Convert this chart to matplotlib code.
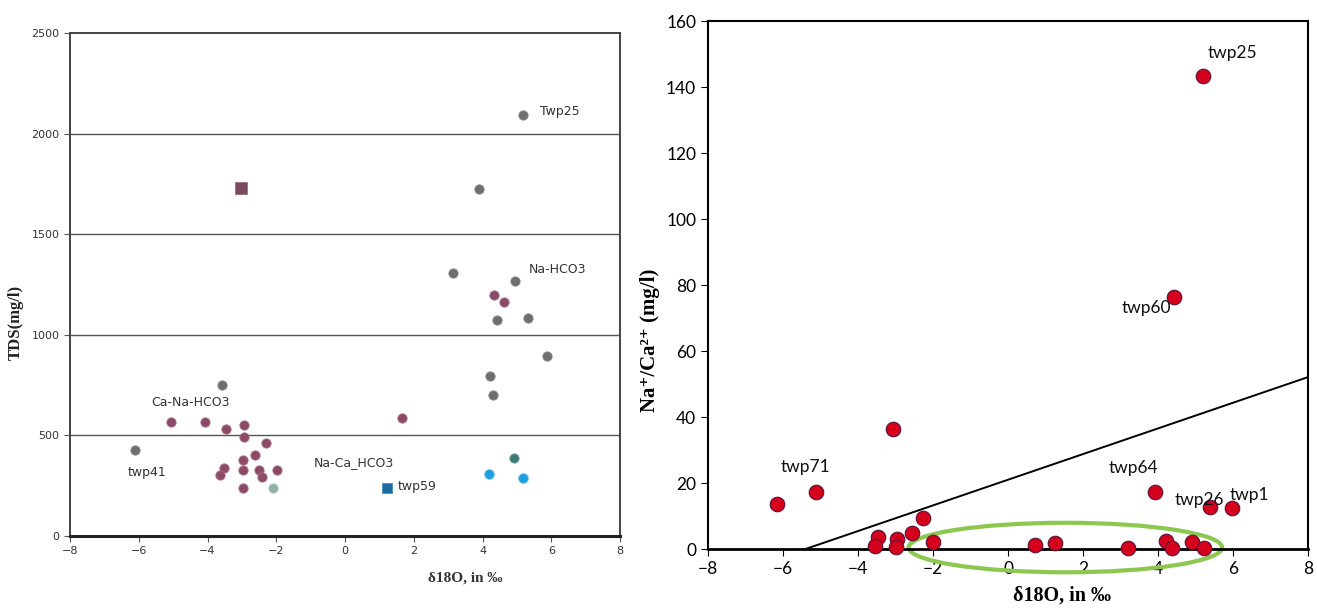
import numpy as np
import matplotlib
matplotlib.use("Agg")
from matplotlib import pyplot as plt
from matplotlib.patches import Ellipse

# ---- TDS vs d18O (left panel) ----
grey_x = [5.18, 3.90, 3.14, 4.94, 5.32, 5.87, 4.21, 4.30, -3.58, -6.10, 4.42]
grey_y = [2092, 1725, 1307, 1267, 1083, 895, 795, 700, 750, 427, 1073]

mauve_x = [4.33, 4.62, 1.65, -5.06, -4.06, -3.45, -2.95, -2.95, -2.29, -2.61,
           -2.97, -2.97, -3.53, -3.63, -2.51, -2.41, -1.97, -2.97]
mauve_y = [1198, 1163, 586, 568, 568, 530, 552, 494, 461, 403,
           378, 328, 336, 303, 328, 295, 328, 237]

big_x, big_y = [-3.04], [1730]
pale_x, pale_y = [-2.10], [237]
teal_x, teal_y = [4.92], [388]
cyan_x, cyan_y = [4.19, 5.18], [308, 288]
blue_x, blue_y = [1.21], [239]

tds_labels = ["Twp25", "Na-HCO3", "Ca-Na-HCO3", "twp41", "Na-Ca_HCO3", "twp59"]
tds_label_x = [5.67, 5.35, -5.64, -6.31, -0.92, 1.53]
tds_label_y = [2112, 1327, 664, 318, 363, 244]

# ---- Na/Ca ratio vs d18O (right panel) ----
ratio_x = [5.20, 4.42, -3.08, -5.12, -6.15, 3.91, 5.39, 5.98, -2.27, -2.57,
           -3.48, -3.55, -2.97, -3.00, -2.00, 0.71, 1.25, 3.20, 4.20, 4.37,
           4.90, 5.23]
ratio_y = [143.3, 76.4, 36.4, 17.3, 13.6, 17.3, 12.7, 12.4, 9.4, 4.9,
           3.6, 0.9, 3.0, 0.6, 2.1, 1.2, 1.9, 0.3, 2.5, 0.4,
           2.1, 0.3]

ratio_labels = ["twp25", "twp60", "twp71", "twp64", "twp26", "twp1"]
ratio_label_x = [5.31, 3.02, -6.06, 2.67, 4.45, 5.90]
ratio_label_y = [150.3, 73.0, 24.8, 24.5, 14.8, 16.4]

# trend line end points and highlighted group
line_x = [-5.4, 8.0]
line_y = [0.0, 52.1]
group_center = (1.53, 0.45)
group_size = (8.36, 15.0)

narrow = ['Liberation Sans Narrow', 'DejaVu Sans']
serif = ['Liberation Serif', 'DejaVu Serif']
calibri = ['Lato', 'DejaVu Sans']

fig = plt.figure(figsize=(13.17, 6.09), dpi=100)

# left panel
ax1 = fig.add_axes([0.0532, 0.1199, 0.4176, 0.8259])
ax1.set_xlim(-8, 8)
ax1.set_ylim(0, 2500)
ax1.set_xticks(np.arange(-8, 9, 2))
ax1.set_yticks(np.arange(0, 2501, 500))
for v in [500, 1000, 1500, 2000]:
    ax1.axhline(v, color='#555555', lw=1.0, zorder=1)
for s in ['top', 'right', 'left']:
    ax1.spines[s].set_color('#444444')
    ax1.spines[s].set_linewidth(1.4)
ax1.spines['bottom'].set_color('#222222')
ax1.spines['bottom'].set_linewidth(2.2)
ax1.tick_params(length=4, color='#555555', labelsize=8, labelcolor='#333333')
for lab in ax1.get_xticklabels() + ax1.get_yticklabels():
    lab.set_family(narrow)

ax1.scatter(grey_x, grey_y, s=45, color='#6e6e6e', edgecolor='#8a8a8a', lw=0.6, zorder=3)
ax1.scatter(mauve_x, mauve_y, s=45, color='#8c4a66', edgecolor='#a8708a', lw=0.6, zorder=3)
ax1.scatter(big_x, big_y, s=85, marker='s', color='#7a4a60', edgecolor='#9a7080', lw=0.6, zorder=3)
ax1.scatter(pale_x, pale_y, s=45, color='#8fb0a8', edgecolor='#b0c8c0', lw=0.6, zorder=3)
ax1.scatter(teal_x, teal_y, s=45, color='#3b7b73', edgecolor='#70a098', lw=0.6, zorder=3)
ax1.scatter(cyan_x, cyan_y, s=50, color='#1ea0e0', edgecolor='#80c8f0', lw=0.6, zorder=3)
ax1.scatter(blue_x, blue_y, s=50, marker='s', color='#1a6aa0', edgecolor='#4a90c0', lw=0.6, zorder=3)

for t, x, y in zip(tds_labels, tds_label_x, tds_label_y):
    ax1.text(x, y, t, fontsize=9, family=narrow, color='#333333', va='center', ha='left')

ax1.set_xlabel('δ18O, in ‰', family=serif, fontsize=11, fontweight='bold', color='#333333')
ax1.xaxis.set_label_coords(0.718, -0.07)
ax1.set_ylabel('TDS(mg/l)', family=serif, fontsize=12, fontweight='bold', color='#222222')
ax1.yaxis.set_label_coords(-0.085, 0.425)

# right panel
ax2 = fig.add_axes([0.5376, 0.0985, 0.4556, 0.867])
ax2.set_xlim(-8, 8)
ax2.set_ylim(0, 160)
ax2.set_xticks(np.arange(-8, 9, 2))
ax2.set_yticks(np.arange(0, 161, 20))
for s in ax2.spines.values():
    s.set_color('black')
    s.set_linewidth(1.5)
ax2.spines['bottom'].set_linewidth(2.0)
ax2.tick_params(length=5, labelsize=12.5)
for lab in ax2.get_xticklabels() + ax2.get_yticklabels():
    lab.set_family(calibri)

ax2.plot(line_x, line_y, color='black', lw=1.4, zorder=2)
ax2.add_patch(Ellipse(group_center, group_size[0], group_size[1], fill=False,
                      edgecolor='#8cc850', lw=3, zorder=2, clip_on=False))
ax2.scatter(ratio_x, ratio_y, s=110, color='#d4001c', edgecolor='#5a1238', lw=0.8,
            zorder=4, clip_on=False)

for t, x, y in zip(ratio_labels, ratio_label_x, ratio_label_y):
    ax2.text(x, y, t, fontsize=12.5, family=calibri, color='#111111', va='center', ha='left', zorder=5)

ax2.set_xlabel('δ18O, in ‰', family=serif, fontsize=14.5, fontweight='bold')
ax2.xaxis.set_label_coords(0.59, -0.07)
ax2.set_ylabel('Na⁺/Ca²⁺ (mg/l)', family=serif, fontsize=15, fontweight='bold')
ax2.yaxis.set_label_coords(-0.08, 0.396)

fig.savefig('out.png', dpi=100)
